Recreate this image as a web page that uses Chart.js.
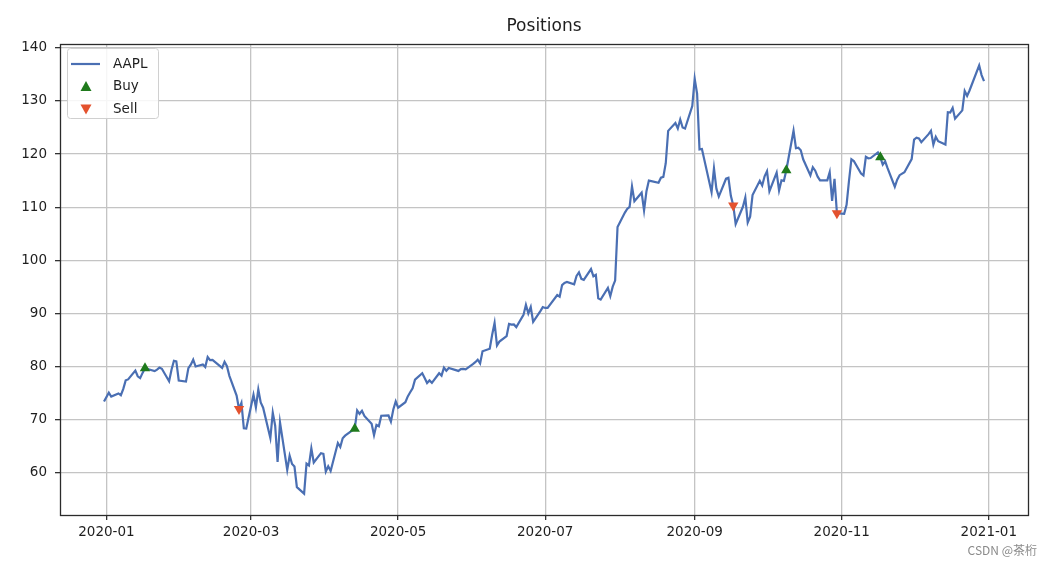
<!DOCTYPE html>
<html lang="en">
<head>
<meta charset="UTF-8">
<title>Positions</title>
<script src="https://cdn.jsdelivr.net/npm/chart.js@4.4.1/dist/chart.umd.min.js"></script>
<style>
  html, body { margin: 0; padding: 0; background: #fff; }
</style>
</head>
<body>
<canvas id="myChart" width="1052" height="565"></canvas>
<script>
// AAPL close prices
const dates = [
  '2019-12-31',
  '2020-01-02','2020-01-03','2020-01-06','2020-01-07','2020-01-08','2020-01-09','2020-01-10','2020-01-13','2020-01-14','2020-01-15','2020-01-16','2020-01-17','2020-01-21','2020-01-22','2020-01-23','2020-01-24','2020-01-27','2020-01-28','2020-01-29','2020-01-30','2020-01-31',
  '2020-02-03','2020-02-04','2020-02-05','2020-02-06','2020-02-07','2020-02-10','2020-02-11','2020-02-12','2020-02-13','2020-02-14','2020-02-18','2020-02-19','2020-02-20','2020-02-21','2020-02-24','2020-02-25','2020-02-26','2020-02-27','2020-02-28',
  '2020-03-02','2020-03-03','2020-03-04','2020-03-05','2020-03-06','2020-03-09','2020-03-10','2020-03-11','2020-03-12','2020-03-13','2020-03-16','2020-03-17','2020-03-18','2020-03-19','2020-03-20','2020-03-23','2020-03-24','2020-03-25','2020-03-26','2020-03-27','2020-03-30','2020-03-31',
  '2020-04-01','2020-04-02','2020-04-03','2020-04-06','2020-04-07','2020-04-08','2020-04-09','2020-04-13','2020-04-14','2020-04-15','2020-04-16','2020-04-17','2020-04-20','2020-04-21','2020-04-22','2020-04-23','2020-04-24','2020-04-27','2020-04-28','2020-04-29','2020-04-30',
  '2020-05-01','2020-05-04','2020-05-05','2020-05-06','2020-05-07','2020-05-08','2020-05-11','2020-05-12','2020-05-13','2020-05-14','2020-05-15','2020-05-18','2020-05-19','2020-05-20','2020-05-21','2020-05-22','2020-05-26','2020-05-27','2020-05-28','2020-05-29',
  '2020-06-01','2020-06-02','2020-06-03','2020-06-04','2020-06-05','2020-06-08','2020-06-09','2020-06-10','2020-06-11','2020-06-12','2020-06-15','2020-06-16','2020-06-17','2020-06-18','2020-06-19','2020-06-22','2020-06-23','2020-06-24','2020-06-25','2020-06-26','2020-06-29','2020-06-30',
  '2020-07-01','2020-07-02','2020-07-06','2020-07-07','2020-07-08','2020-07-09','2020-07-10','2020-07-13','2020-07-14','2020-07-15','2020-07-16','2020-07-17','2020-07-20','2020-07-21','2020-07-22','2020-07-23','2020-07-24','2020-07-27','2020-07-28','2020-07-29','2020-07-30','2020-07-31',
  '2020-08-03','2020-08-04','2020-08-05','2020-08-06','2020-08-07','2020-08-10','2020-08-11','2020-08-12','2020-08-13','2020-08-14','2020-08-17','2020-08-18','2020-08-19','2020-08-20','2020-08-21','2020-08-24','2020-08-25','2020-08-26','2020-08-27','2020-08-28','2020-08-31',
  '2020-09-01','2020-09-02','2020-09-03','2020-09-04','2020-09-08','2020-09-09','2020-09-10','2020-09-11','2020-09-14','2020-09-15','2020-09-16','2020-09-17','2020-09-18','2020-09-21','2020-09-22','2020-09-23','2020-09-24','2020-09-25','2020-09-28','2020-09-29','2020-09-30',
  '2020-10-01','2020-10-02','2020-10-05','2020-10-06','2020-10-07','2020-10-08','2020-10-09','2020-10-12','2020-10-13','2020-10-14','2020-10-15','2020-10-16','2020-10-19','2020-10-20','2020-10-21','2020-10-22','2020-10-23','2020-10-26','2020-10-27','2020-10-28','2020-10-29','2020-10-30',
  '2020-11-02','2020-11-03','2020-11-04','2020-11-05','2020-11-06','2020-11-09','2020-11-10','2020-11-11','2020-11-12','2020-11-13','2020-11-16','2020-11-17','2020-11-18','2020-11-19','2020-11-20','2020-11-23','2020-11-24','2020-11-25','2020-11-27','2020-11-30',
  '2020-12-01','2020-12-02','2020-12-03','2020-12-04','2020-12-07','2020-12-08','2020-12-09','2020-12-10','2020-12-11','2020-12-14','2020-12-15','2020-12-16','2020-12-17','2020-12-18','2020-12-21','2020-12-22','2020-12-23','2020-12-24','2020-12-28','2020-12-29','2020-12-30'
];
const closes = [
  73.41,
  75.09, 74.36, 74.95, 74.60, 75.80, 77.41, 77.58, 79.24, 78.17, 77.83, 78.81, 79.68, 79.14, 79.43, 79.81, 79.58, 77.24, 79.42, 81.08, 80.97, 77.38,
  77.17, 79.71, 80.36, 81.30, 80.01, 80.39, 79.90, 81.80, 81.22, 81.24, 79.75, 80.90, 80.07, 78.26, 74.54, 72.02, 73.16, 68.38, 68.34,
  74.70, 72.33, 75.68, 73.23, 72.26, 66.54, 71.33, 68.86, 62.06, 69.49, 60.55, 63.22, 61.67, 61.19, 57.31, 56.09, 61.72, 61.38, 64.61, 61.94, 63.70, 63.57,
  60.23, 61.23, 60.35, 65.62, 64.86, 66.52, 67.00, 68.31, 71.76, 71.11, 71.67, 70.70, 69.23, 67.09, 69.03, 68.76, 70.74, 70.79, 69.64, 71.93, 73.45,
  72.27, 73.29, 74.39, 75.16, 75.93, 77.53, 78.75, 77.85, 76.91, 77.39, 76.93, 78.74, 78.29, 79.81, 79.21, 79.72, 79.18, 79.53, 79.56, 79.49,
  80.46, 80.83, 81.28, 80.58, 82.88, 83.36, 85.99, 88.21, 83.97, 84.70, 85.75, 88.02, 87.90, 87.93, 87.43, 89.72, 91.63, 90.01, 91.21, 88.41, 90.45, 91.20,
  91.03, 91.03, 93.46, 93.17, 95.34, 95.75, 95.92, 95.48, 97.06, 97.72, 96.52, 96.33, 98.36, 97.00, 97.27, 92.85, 92.62, 94.81, 93.25, 95.04, 96.19, 106.26,
  108.94, 109.67, 110.06, 113.90, 111.11, 112.73, 109.38, 113.01, 115.01, 114.91, 114.61, 115.56, 115.71, 118.28, 124.37, 125.86, 124.83, 126.52, 125.01, 124.81, 129.04,
  134.18, 131.40, 120.88, 120.96, 112.82, 117.32, 113.49, 112.00, 115.36, 115.54, 112.13, 110.34, 106.84, 110.08, 111.81, 107.12, 108.22, 112.28, 114.96, 114.09, 115.81,
  116.79, 113.02, 116.50, 113.16, 115.08, 114.97, 116.97, 124.40, 121.10, 121.19, 120.71, 119.02, 115.98, 117.51, 116.87, 115.75, 115.04, 115.05, 116.60, 111.20, 115.32, 108.86,
  108.77, 110.44, 114.95, 119.03, 118.69, 116.32, 115.97, 119.49, 119.21, 119.26, 120.30, 119.39, 118.03, 118.64, 117.34, 113.85, 115.17, 116.03, 116.59, 119.05,
  122.72, 123.08, 122.94, 122.25, 123.75, 124.38, 121.78, 123.24, 122.41, 121.78, 127.88, 127.81, 128.70, 126.66, 128.23, 131.88, 130.96, 131.97, 136.69, 134.87, 133.72
];

const buyDates = ['2020-01-17', '2020-04-13', '2020-10-09', '2020-11-17'];
const buyPrices = [79.68, 68.31, 116.97, 119.39];
const sellDates = ['2020-02-25', '2020-09-17', '2020-10-30'];
const sellPrices = [72.02, 110.34, 108.86];

const xTickDates = ['2020-01-01', '2020-03-01', '2020-05-01', '2020-07-01', '2020-09-01', '2020-11-01', '2021-01-01'];
const xTickLabels = ['2020-01', '2020-03', '2020-05', '2020-07', '2020-09', '2020-11', '2021-01'];
const yTicks = [60, 70, 80, 90, 100, 110, 120, 130, 140];

const LINE = '#4a6fb3', GREEN = '#1f7a1c', RED = '#e4522e';
const FONT = 'DejaVu Sans';

// days since 2020-01-01 (no date adapter available)
function dayNum(s) {
  const [y, m, d] = s.split('-').map(Number);
  return (Date.UTC(y, m - 1, d) - Date.UTC(2020, 0, 1)) / 864e5;
}

const xs = dates.map(dayNum);
// matplotlib style 5% margins
const xLo = Math.min(...xs), xHi = Math.max(...xs);
const yLo = Math.min(...closes), yHi = Math.max(...closes);
const xMin = xLo - 0.05 * (xHi - xLo), xMax = xHi + 0.05 * (xHi - xLo);
const yMin = yLo - 0.05 * (yHi - yLo), yMax = yHi + 0.05 * (yHi - yLo);

const tickFont = { family: FONT, size: 13.5 };

const decor = {
  id: 'decor',
  afterDraw(chart) {
    const ctx = chart.ctx, a = chart.chartArea;
    ctx.save();
    // frame
    ctx.strokeStyle = '#2b2b2b';
    ctx.lineWidth = 1.3;
    ctx.strokeRect(Math.round(a.left) + 0.5, Math.round(a.top) + 0.5, Math.round(a.right - a.left), Math.round(a.bottom - a.top));

    // title
    ctx.fillStyle = '#1e1e1e';
    ctx.font = '17px "' + FONT + '"';
    ctx.textAlign = 'center';
    ctx.textBaseline = 'middle';
    ctx.fillText('Positions', (a.left + a.right) / 2, 27);

    // legend
    const bx = a.left + 7, by = a.top + 4, bw = 91, bh = 70;
    ctx.beginPath();
    ctx.roundRect(bx + 0.5, by + 0.5, bw, bh, 3);
    ctx.fillStyle = 'rgba(255,255,255,0.85)';
    ctx.fill();
    ctx.lineWidth = 1;
    ctx.strokeStyle = '#d0d0d0';
    ctx.stroke();

    const rows = [by + 16, by + 38.5, by + 61];
    ctx.strokeStyle = LINE;
    ctx.lineWidth = 2.2;
    ctx.beginPath();
    ctx.moveTo(bx + 4, rows[0]);
    ctx.lineTo(bx + 33, rows[0]);
    ctx.stroke();

    const mx = bx + 19, r = 5.5;
    ctx.fillStyle = GREEN;
    ctx.beginPath();
    ctx.moveTo(mx, rows[1] - r);
    ctx.lineTo(mx + r, rows[1] + r * 0.8);
    ctx.lineTo(mx - r, rows[1] + r * 0.8);
    ctx.closePath();
    ctx.fill();
    ctx.fillStyle = RED;
    ctx.beginPath();
    ctx.moveTo(mx, rows[2] + r);
    ctx.lineTo(mx + r, rows[2] - r * 0.8);
    ctx.lineTo(mx - r, rows[2] - r * 0.8);
    ctx.closePath();
    ctx.fill();

    ctx.fillStyle = '#1e1e1e';
    ctx.font = '13.5px "' + FONT + '"';
    ctx.textAlign = 'left';
    ctx.fillText('AAPL', bx + 46, rows[0]);
    ctx.fillText('Buy', bx + 46, rows[1]);
    ctx.fillText('Sell', bx + 46, rows[2]);

    // watermark
    ctx.fillStyle = '#8a8a8a';
    ctx.font = '12px "Noto Sans CJK SC"';
    ctx.textAlign = 'right';
    ctx.fillText('CSDN @茶桁', 1037, 550);
    ctx.restore();
  }
};

const ctx = document.getElementById('myChart').getContext('2d');
const myChart = new Chart(ctx, {
  type: 'line',
  data: {
    datasets: [
      {
        label: 'AAPL',
        data: xs.map((x, i) => ({ x: x, y: closes[i] })),
        borderColor: LINE,
        borderWidth: 2.2,
        pointRadius: 0,
        tension: 0,
        fill: false,
        order: 2
      },
      {
        label: 'Buy',
        data: buyDates.map((d, i) => ({ x: dayNum(d), y: buyPrices[i] })),
        showLine: false,
        pointStyle: 'triangle',
        pointRadius: 6,
        backgroundColor: GREEN,
        borderColor: GREEN,
        borderWidth: 0,
        order: 1
      },
      {
        label: 'Sell',
        data: sellDates.map((d, i) => ({ x: dayNum(d), y: sellPrices[i] })),
        showLine: false,
        pointStyle: 'triangle',
        pointRotation: 180,
        pointRadius: 6,
        backgroundColor: RED,
        borderColor: RED,
        borderWidth: 0,
        order: 0
      }
    ]
  },
  options: {
    responsive: false,
    animation: false,
    devicePixelRatio: 1,
    layout: { padding: { left: 0, right: 24, top: 44, bottom: 0 } },
    plugins: {
      legend: { display: false },
      title: { display: false },
      tooltip: { enabled: false }
    },
    scales: {
      x: {
        type: 'linear',
        min: xMin,
        max: xMax,
        afterBuildTicks: s => { s.ticks = xTickDates.map(d => ({ value: dayNum(d) })); },
        afterFit: s => { s.height = 50; },
        ticks: {
          autoSkip: false,
          maxRotation: 0,
          padding: 4,
          font: tickFont,
          color: '#1e1e1e',
          callback: v => xTickLabels[xTickDates.map(dayNum).indexOf(v)]
        },
        grid: { color: '#c4c4c4', lineWidth: 1.3, tickLength: 5, tickColor: '#333' },
        border: { display: false }
      },
      y: {
        min: yMin,
        max: yMax,
        afterBuildTicks: s => { s.ticks = yTicks.map(v => ({ value: v })); },
        afterFit: s => { s.width = 60; },
        ticks: { padding: 8, font: tickFont, color: '#1e1e1e' },
        grid: { color: '#c4c4c4', lineWidth: 1.3, tickLength: 5, tickColor: '#333' },
        border: { display: false }
      }
    }
  },
  plugins: [decor]
});
</script>
</body>
</html>
